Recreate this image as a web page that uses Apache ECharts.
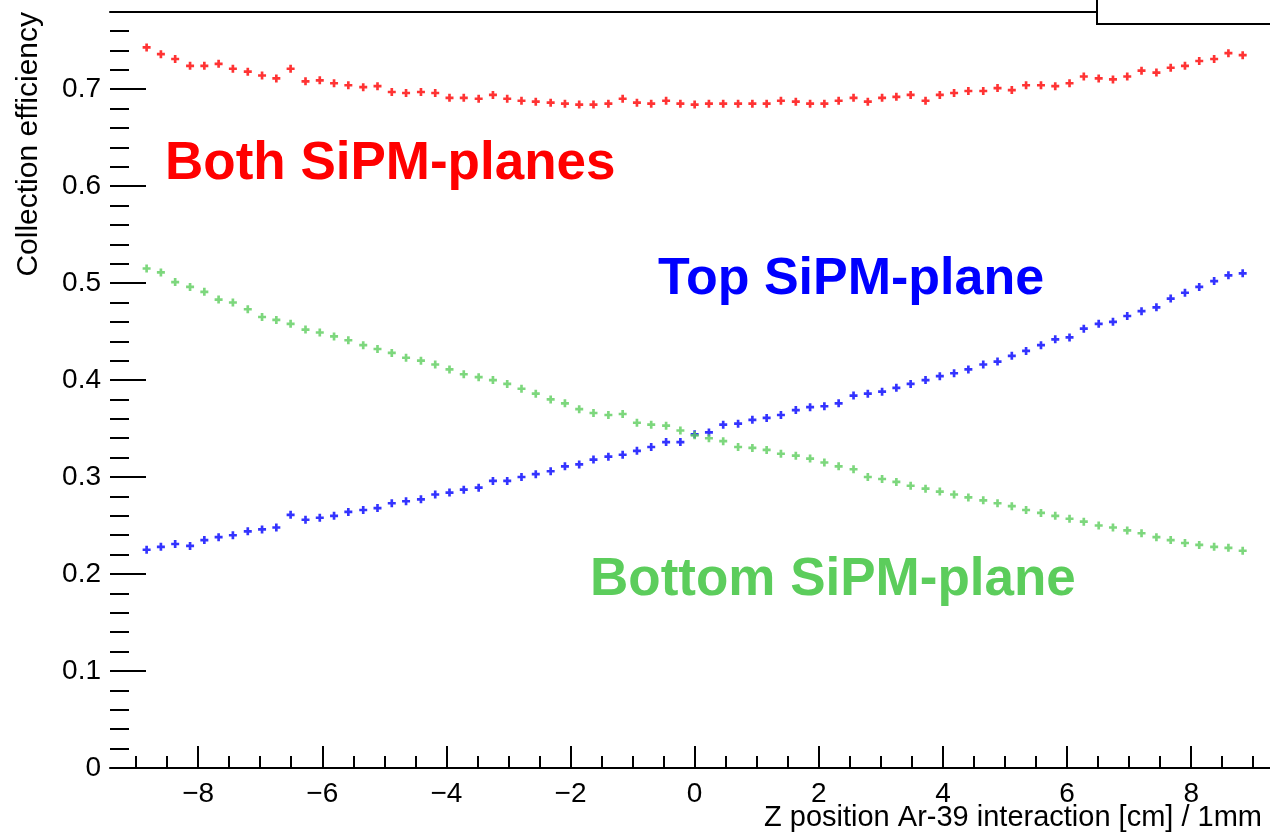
<!DOCTYPE html>
<html>
<head>
<meta charset="utf-8">
<script src="https://cdn.jsdelivr.net/npm/echarts@6/dist/echarts.min.js"></script>
<style>
  html, body { margin: 0; padding: 0; background: #fff; }
  #chart { width: 1270px; height: 834px; }
</style>
</head>
<body>
<div id="chart"></div>
<script>
// Z position of each bin centre [cm]
var zPos = [
  -8.83, -8.60, -8.37, -8.13, -7.90, -7.67, -7.44, -7.20, -6.97, -6.74,
  -6.51, -6.27, -6.04, -5.81, -5.58, -5.34, -5.11, -4.88, -4.65, -4.41,
  -4.18, -3.95, -3.72, -3.48, -3.25, -3.02, -2.79, -2.56, -2.32, -2.09,
  -1.86, -1.63, -1.39, -1.16, -0.93, -0.70, -0.46, -0.23, 0.00, 0.23,
  0.46, 0.70, 0.93, 1.16, 1.39, 1.63, 1.86, 2.09, 2.32, 2.56,
  2.79, 3.02, 3.25, 3.48, 3.72, 3.95, 4.18, 4.41, 4.65, 4.88,
  5.11, 5.34, 5.58, 5.81, 6.04, 6.27, 6.51, 6.74, 6.97, 7.20,
  7.44, 7.67, 7.90, 8.13, 8.37, 8.60, 8.83
];

// both planes
var bothEff = [
  0.743, 0.736, 0.731, 0.724, 0.724, 0.726, 0.721, 0.718, 0.714, 0.711,
  0.721, 0.708, 0.709, 0.706, 0.704, 0.702, 0.703, 0.697, 0.696, 0.697,
  0.696, 0.691, 0.691, 0.690, 0.694, 0.690, 0.688, 0.687, 0.686, 0.685,
  0.684, 0.684, 0.685, 0.690, 0.686, 0.685, 0.688, 0.685, 0.684, 0.685,
  0.685, 0.685, 0.685, 0.685, 0.688, 0.687, 0.685, 0.685, 0.688, 0.691,
  0.687, 0.691, 0.692, 0.694, 0.688, 0.694, 0.696, 0.698, 0.698, 0.701,
  0.699, 0.704, 0.704, 0.703, 0.706, 0.713, 0.711, 0.710, 0.713, 0.719,
  0.717, 0.722, 0.724, 0.729, 0.731, 0.737, 0.735
];

// top plane
var topEff = [
  0.225, 0.228, 0.231, 0.229, 0.235, 0.238, 0.240, 0.244, 0.246, 0.248,
  0.261, 0.256, 0.258, 0.260, 0.264, 0.266, 0.268, 0.273, 0.275, 0.277,
  0.282, 0.284, 0.287, 0.289, 0.296, 0.296, 0.300, 0.303, 0.306, 0.311,
  0.313, 0.318, 0.321, 0.323, 0.327, 0.331, 0.336, 0.336, 0.344, 0.346,
  0.354, 0.355, 0.359, 0.361, 0.364, 0.369, 0.372, 0.373, 0.376, 0.384,
  0.386, 0.388, 0.392, 0.396, 0.400, 0.404, 0.407, 0.411, 0.416, 0.419,
  0.425, 0.430, 0.436, 0.442, 0.444, 0.453, 0.458, 0.460, 0.466, 0.471,
  0.475, 0.484, 0.490, 0.496, 0.502, 0.508, 0.510
];

// bottom plane
var bottomEff = [
  0.515, 0.511, 0.501, 0.496, 0.491, 0.483, 0.480, 0.473, 0.465, 0.462,
  0.458, 0.452, 0.449, 0.445, 0.441, 0.436, 0.432, 0.428, 0.423, 0.420,
  0.416, 0.411, 0.406, 0.403, 0.400, 0.396, 0.391, 0.386, 0.380, 0.376,
  0.370, 0.366, 0.364, 0.365, 0.356, 0.354, 0.353, 0.348, 0.343, 0.340,
  0.337, 0.331, 0.330, 0.328, 0.324, 0.322, 0.319, 0.315, 0.311, 0.308,
  0.300, 0.298, 0.295, 0.291, 0.288, 0.285, 0.282, 0.279, 0.276, 0.273,
  0.270, 0.266, 0.263, 0.260, 0.257, 0.254, 0.250, 0.248, 0.245, 0.242,
  0.238, 0.235, 0.232, 0.230, 0.228, 0.227, 0.224
];

var xTicks = [-8, -6, -4, -2, 0, 2, 4, 6, 8];
var yTicks = [0, 0.1, 0.2, 0.3, 0.4, 0.5, 0.6, 0.7];

// minor ticks: every 0.5 on x, every 0.02 on y
var xMinor = [];
for (var i = -18; i <= 18; i++) {
  if (i % 4 !== 0) xMinor.push(i / 2);
}
var yMinor = [];
for (var j = 1; j <= 39; j++) {
  if (j % 5 !== 0) yMinor.push(+(j * 0.02).toFixed(2));
}

function pairs(ys) {
  return zPos.map(function (x, k) { return [x, ys[k]]; });
}

var FONT = '"Liberation Sans", Arial, Helvetica, sans-serif';
var PLUS = 'path://M0,3H3V0H6V3H9V6H6V9H3V6H0Z';
var X_MIN = -9.42, X_MAX = 9.27;

var chart = echarts.init(document.getElementById('chart'));
chart.setOption({
  animation: false,
  backgroundColor: '#fff',
  grid: { left: 110, right: 0, top: 11.5, bottom: 66 },
  xAxis: [
    {
      type: 'value', min: X_MIN, max: X_MAX, position: 'bottom',
      splitLine: { show: false },
      axisLine: { show: true, onZero: false, lineStyle: { color: '#000', width: 2 } },
      axisTick: { show: true, inside: true, length: 22, customValues: xTicks,
        lineStyle: { color: '#000', width: 2 } },
      axisLabel: {
        customValues: xTicks, margin: 12, color: '#000',
        fontFamily: FONT, fontSize: 28,
        formatter: function (v) { return v < 0 ? '\u2212' + (-v) : String(v); }
      }
    },
    {
      type: 'value', min: X_MIN, max: X_MAX, position: 'bottom',
      splitLine: { show: false },
      axisLine: { show: false, onZero: false },
      axisTick: { show: true, inside: true, length: 12, customValues: xMinor,
        lineStyle: { color: '#000', width: 2 } },
      axisLabel: { show: false }
    },
    {
      // frame top
      type: 'value', min: X_MIN, max: X_MAX, position: 'top',
      splitLine: { show: false },
      axisLine: { show: true, onZero: false, lineStyle: { color: '#000', width: 2 } },
      axisTick: { show: false },
      axisLabel: { show: false }
    }
  ],
  yAxis: [
    {
      type: 'value', min: 0, max: 0.78, position: 'left',
      splitLine: { show: false },
      axisLine: { show: false, onZero: false },
      axisTick: { show: true, inside: true, length: 36, customValues: yTicks,
        lineStyle: { color: '#000', width: 2 } },
      axisLabel: {
        customValues: yTicks, margin: 9, color: '#000',
        fontFamily: FONT, fontSize: 28,
        formatter: function (v) { return v === 0 ? '0' : v.toFixed(1); }
      }
    },
    {
      type: 'value', min: 0, max: 0.78, position: 'left',
      splitLine: { show: false },
      axisLine: { show: false, onZero: false },
      axisTick: { show: true, inside: true, length: 19, customValues: yMinor,
        lineStyle: { color: '#000', width: 2 } },
      axisLabel: { show: false }
    }
  ],
  series: [
    { name: 'Both', type: 'scatter', data: pairs(bothEff), symbol: PLUS, symbolSize: 8,
      itemStyle: { color: '#ff0000' } },
    { name: 'Top', type: 'scatter', data: pairs(topEff), symbol: PLUS, symbolSize: 8,
      itemStyle: { color: '#0000ff' } },
    { name: 'Bottom', type: 'scatter', data: pairs(bottomEff), symbol: PLUS, symbolSize: 8,
      itemStyle: { color: '#5ccd5c' } }
  ],
  graphic: [
    { type: 'text', x: 165, y: 164, z: 50,
      style: { text: 'Both SiPM-planes', fill: '#ff0000', font: 'bold 53px ' + FONT,
        textAlign: 'left', textVerticalAlign: 'middle' } },
    { type: 'text', x: 658, y: 280, z: 50,
      style: { text: 'Top SiPM-plane', fill: '#0000ff', font: 'bold 52px ' + FONT,
        textAlign: 'left', textVerticalAlign: 'middle' } },
    { type: 'text', x: 590, y: 580, z: 50,
      style: { text: 'Bottom SiPM-plane', fill: '#5ccd5c', font: 'bold 53px ' + FONT,
        textAlign: 'left', textVerticalAlign: 'middle' } },
    // axis titles
    { type: 'text', x: 1262, y: 818, z: 50,
      style: { text: 'Z position Ar-39 interaction [cm] / 1mm', fill: '#000',
        font: '29px ' + FONT, textAlign: 'right', textVerticalAlign: 'middle' } },
    { type: 'text', x: 29, y: 12, rotation: Math.PI / 2, z: 50,
      style: { text: 'Collection efficiency', fill: '#000',
        font: '30px ' + FONT, textAlign: 'right', textVerticalAlign: 'middle' } },
    // box in the top right corner
    { type: 'rect', z: 100,
      shape: { x: 1097, y: -5, width: 200, height: 29 },
      style: { fill: '#fff', stroke: '#000', lineWidth: 2 } }
  ]
});
</script>
</body>
</html>
